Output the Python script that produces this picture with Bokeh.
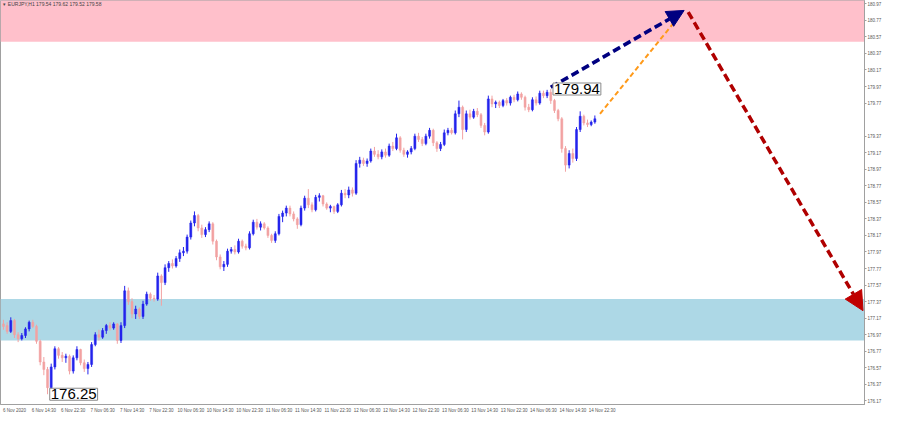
import numpy as np
from bokeh.plotting import figure
from bokeh.models import (Range1d, FixedTicker, BoxAnnotation, Label, Arrow,
                          NormalHead, ColumnDataSource)
from bokeh.embed import file_html
from bokeh.resources import INLINE

# ---------------- data ----------------
opens = [177.10,177.08,177.01,177.14,176.97,176.92,176.96,177.04,177.12,177.07,
176.89,176.64,176.55,176.33,176.58,176.80,176.72,176.69,176.71,176.53,
176.69,176.79,176.63,176.56,176.61,176.85,176.97,176.94,177.02,177.08,
177.05,177.10,176.90,177.08,177.50,177.37,177.22,177.28,177.19,177.34,
177.46,177.41,177.40,177.68,177.60,177.78,177.83,177.80,177.89,177.96,
177.98,178.15,178.32,178.41,178.26,178.18,178.24,178.31,178.10,177.91,
177.79,177.82,177.98,178.00,177.97,178.10,178.04,178.02,178.19,178.33,
178.27,178.31,178.26,178.17,178.11,178.19,178.40,178.44,178.50,178.43,
178.37,178.30,178.50,178.62,178.54,178.48,178.63,178.65,178.55,178.50,
178.52,178.46,178.54,178.68,178.66,178.72,178.68,179.04,179.08,179.04,
179.07,179.19,179.15,179.12,179.18,179.14,179.25,179.22,179.35,179.20,
179.15,179.18,179.22,179.37,179.33,179.28,179.37,179.44,179.29,179.22,
179.27,179.41,179.44,179.41,179.64,179.72,179.45,179.64,179.60,179.67,
179.63,179.50,179.42,179.82,179.76,179.78,179.74,179.80,179.77,179.84,
179.81,179.88,179.84,179.72,179.69,179.81,179.77,179.89,179.86,179.90,
179.80,179.68,179.58,179.22,179.02,179.16,179.10,179.45,179.61,179.53,
179.51,179.54]

highs = [177.15,177.12,177.18,177.16,177.00,176.99,177.06,177.14,177.15,177.09,
176.91,176.70,176.58,176.62,176.83,176.82,176.76,176.74,176.73,176.72,
176.83,176.80,176.67,176.64,176.88,177.00,177.03,177.05,177.10,177.12,
177.12,177.11,177.12,177.56,177.54,177.41,177.32,177.30,177.38,177.49,
177.48,177.45,177.72,177.70,177.82,177.86,177.88,177.92,178.00,178.03,
178.18,178.35,178.46,178.43,178.30,178.27,178.34,178.33,178.12,177.94,
177.86,178.01,178.03,178.05,178.13,178.12,178.07,178.22,178.36,178.37,
178.34,178.33,178.28,178.19,178.22,178.43,178.47,178.53,178.53,178.46,
178.39,178.53,178.65,178.73,178.57,178.66,178.68,178.66,178.57,178.54,
178.53,178.56,178.72,178.73,178.76,178.75,179.08,179.12,179.11,179.10,
179.22,179.24,179.20,179.21,179.22,179.28,179.30,179.40,179.37,179.23,
179.20,179.25,179.40,179.41,179.36,179.40,179.47,179.46,179.31,179.30,
179.45,179.47,179.47,179.68,179.80,179.74,179.68,179.69,179.70,179.71,
179.65,179.53,179.86,179.86,179.80,179.80,179.82,179.83,179.86,179.87,
179.91,179.90,179.86,179.76,179.84,179.85,179.92,179.92,179.93,179.94,
179.82,179.70,179.60,179.25,179.20,179.22,179.48,179.67,179.63,179.57,
179.56,179.62]

lows = [177.03,176.98,176.99,176.93,176.88,176.90,176.93,177.01,177.05,176.86,
176.60,176.48,176.25,176.30,176.55,176.68,176.64,176.63,176.49,176.50,
176.66,176.60,176.52,176.49,176.58,176.83,176.90,176.92,176.98,177.02,
177.03,176.86,176.87,177.05,177.33,177.17,177.16,177.16,177.16,177.32,
177.38,177.37,177.38,177.32,177.57,177.73,177.77,177.78,177.85,177.92,
177.95,178.12,178.28,178.22,178.14,178.15,178.21,178.06,177.87,177.76,
177.74,177.79,177.95,177.94,177.95,178.01,177.99,178.00,178.17,178.24,
178.23,178.24,178.14,178.08,178.08,178.17,178.33,178.40,178.40,178.34,
178.25,178.28,178.47,178.50,178.45,178.46,178.58,178.52,178.48,178.45,
178.43,178.44,178.52,178.62,178.62,178.64,178.66,178.99,179.01,179.00,
179.05,179.12,179.09,179.09,179.11,179.12,179.19,179.20,179.17,179.12,
179.11,179.15,179.20,179.30,179.25,179.26,179.34,179.25,179.18,179.19,
179.25,179.38,179.39,179.39,179.60,179.33,179.42,179.57,179.58,179.60,
179.47,179.38,179.40,179.72,179.71,179.71,179.72,179.74,179.74,179.78,
179.79,179.81,179.68,179.66,179.67,179.74,179.75,179.83,179.83,179.76,
179.65,179.55,179.17,178.94,178.98,179.05,179.07,179.42,179.50,179.48,
179.49,179.52]

closes = [177.07,177.01,177.14,176.97,176.92,176.96,177.04,177.12,177.07,176.89,
176.64,176.55,176.33,176.58,176.80,176.72,176.69,176.71,176.53,176.69,
176.79,176.63,176.56,176.61,176.85,176.97,176.94,177.02,177.08,177.05,
177.10,176.90,177.08,177.50,177.37,177.22,177.28,177.19,177.34,177.46,
177.41,177.40,177.68,177.60,177.78,177.83,177.80,177.89,177.96,177.98,
178.15,178.32,178.41,178.26,178.18,178.24,178.31,178.10,177.91,177.79,
177.82,177.98,178.00,177.97,178.10,178.04,178.02,178.19,178.33,178.27,
178.31,178.26,178.17,178.11,178.19,178.40,178.44,178.50,178.43,178.37,
178.30,178.50,178.62,178.54,178.48,178.63,178.65,178.55,178.50,178.52,
178.46,178.54,178.68,178.66,178.72,178.68,179.04,179.08,179.04,179.07,
179.19,179.15,179.12,179.18,179.14,179.25,179.22,179.35,179.20,179.15,
179.18,179.22,179.37,179.33,179.28,179.37,179.44,179.29,179.22,179.27,
179.41,179.44,179.41,179.64,179.72,179.45,179.64,179.60,179.67,179.63,
179.50,179.42,179.82,179.76,179.78,179.74,179.80,179.77,179.84,179.81,
179.88,179.84,179.72,179.69,179.81,179.77,179.89,179.86,179.90,179.80,
179.68,179.58,179.22,179.02,179.16,179.10,179.45,179.61,179.53,179.51,
179.54,179.58]

x_tick_labels = ["6 Nov 2020", "6 Nov 14:30", "6 Nov 22:30", "7 Nov 06:30", "7 Nov 14:30",
                 "7 Nov 22:30", "10 Nov 06:30", "10 Nov 14:30", "10 Nov 22:30", "11 Nov 06:30",
                 "11 Nov 14:30", "11 Nov 22:30", "12 Nov 06:30", "12 Nov 14:30", "12 Nov 22:30",
                 "13 Nov 06:30", "13 Nov 14:30", "13 Nov 22:30", "14 Nov 06:30", "14 Nov 14:30",
                 "14 Nov 22:30"]
bars_per_label = 8

y_tick_values = [176.17, 176.37, 176.57, 176.77, 176.97, 177.17, 177.37, 177.57, 177.77,
                 177.97, 178.17, 178.37, 178.57, 178.77, 178.97, 179.17, 179.37,
                 179.77, 179.97, 180.17, 180.37, 180.57, 180.77, 180.97]

sell_zone = [180.51, 181.20]      # pink resistance zone
buy_zone = [176.90, 177.40]       # blue support zone

high_mark = [149, 179.94]
low_mark = [12, 176.25]
current_price = 179.58
title_text = "\u25be EURJPY,H1  179.54 179.62 179.52 179.58"

# forecast lines (bar index, price)
navy_arrow = [149.0, 179.96, 185.3, 180.89]
orange_line = [162.4, 179.64, 183.2, 180.78]
red_arrow = [186.4, 180.87, 234.0, 177.26]

# ---------------- figure ----------------
FONT = "Liberation Sans"
p = figure(width=884, height=415, output_backend="svg", toolbar_location=None,
           x_range=Range1d(-0.8, 234.4), y_range=Range1d(176.126, 181.01),
           y_axis_location="right", min_border=0, min_border_right=0)
p.grid.visible = False
p.outline_line_color = "#a0a0a0"
p.background_fill_color = "white"
p.border_fill_color = "white"

p.add_layout(BoxAnnotation(bottom=sell_zone[0], top=sell_zone[1], fill_color="#FFC0CB",
                           fill_alpha=1.0, line_color=None, level="underlay"))
p.add_layout(BoxAnnotation(bottom=buy_zone[0], top=buy_zone[1], fill_color="#ADD8E6",
                           fill_alpha=1.0, line_color=None, level="underlay"))

o = np.array(opens); h = np.array(highs); l = np.array(lows); c = np.array(closes)
h = np.maximum(h, np.maximum(o, c)); l = np.minimum(l, np.minimum(o, c))
idx = np.arange(len(o))
up = c >= o
bull, bear = "#2323ec", "#f2a2a2"
src = ColumnDataSource(dict(x=idx, h=h, l=l, top=np.maximum(o, c), bot=np.minimum(o, c),
                            col=np.where(up, bull, bear)))
p.segment(x0="x", x1="x", y0="l", y1="h", color="col", line_width=1, source=src)
p.vbar(x="x", width=0.55, top="top", bottom="bot", fill_color="col", line_color="col",
       line_width=0.5, source=src)

# forecast drawings
p.segment(x0=[orange_line[0]], y0=[orange_line[1]], x1=[orange_line[2]], y1=[orange_line[3]],
          line_color="#FF9A1A", line_width=2, line_dash="5 3")
p.add_layout(Arrow(x_start=navy_arrow[0], y_start=navy_arrow[1], x_end=navy_arrow[2],
                   y_end=navy_arrow[3], line_color="#000080", line_width=3.5, line_dash="8 4",
                   end=NormalHead(size=17, fill_color="#000080", line_color="#000080")))
p.add_layout(Arrow(x_start=red_arrow[0], y_start=red_arrow[1], x_end=red_arrow[2],
                   y_end=red_arrow[3], line_color="#B00000", line_width=3.5, line_dash="8 4",
                   end=NormalHead(size=19, fill_color="#C00000", line_color="#C00000")))

# price labels
for (bx, pr) in (high_mark, low_mark):
    p.add_layout(Label(x=bx + 0.6, y=pr, text=f"{pr:.2f}", text_font=FONT,
                       text_font_size="15px", text_color="black", text_baseline="middle",
                       text_align="left", background_fill_color="white",
                       border_line_color="#8a8a8a", border_line_width=1, padding=1))

p.add_layout(Label(x=0.0, y=180.965, text=title_text, text_font=FONT, text_font_size="5px",
                   text_color="#444444", text_baseline="middle"))
p.add_layout(Label(x=234.6, y=current_price, text=f"{current_price:.2f}", text_font=FONT,
                   text_font_size="4.5px", text_color="white", text_baseline="middle",
                   background_fill_color="#333333", padding=1))

# axes
p.yaxis.ticker = FixedTicker(ticks=y_tick_values)
p.yaxis.major_label_overrides = {v: f"{v:.2f}" for v in y_tick_values}
p.xaxis.ticker = FixedTicker(ticks=[i * bars_per_label + 3 for i in range(len(x_tick_labels))])
p.xaxis.major_label_overrides = {i * bars_per_label + 3: t for i, t in enumerate(x_tick_labels)}
for ax in (p.xaxis, p.yaxis):
    ax.major_label_text_font = FONT
    ax.major_label_text_font_size = "4.5px"
    ax.major_label_text_color = "#555555"
    ax.axis_line_color = "#a0a0a0"
    ax.major_tick_line_color = "#a0a0a0"
    ax.major_tick_in = 0
    ax.major_tick_out = 2
    ax.minor_tick_line_color = None
    ax.major_label_standoff = 1
p.xaxis.major_tick_line_color = None

open("out.html", "w").write(file_html(p, INLINE))
